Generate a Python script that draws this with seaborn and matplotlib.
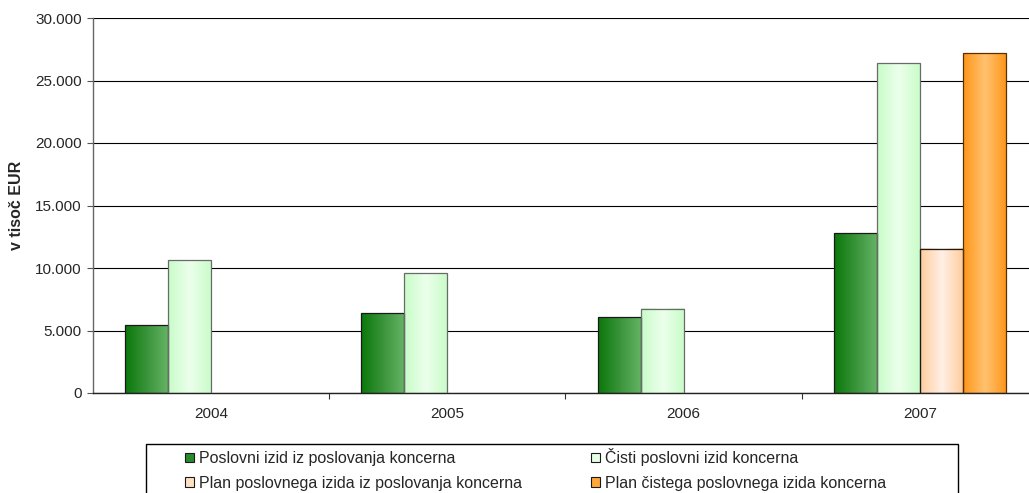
import numpy as np
import pandas as pd
import matplotlib
matplotlib.use("Agg")
import matplotlib.pyplot as plt
import matplotlib.colors as mcolors
from matplotlib.patches import Rectangle
from matplotlib.ticker import FuncFormatter, FixedLocator
import seaborn as sns

years = ["2004", "2005", "2006", "2007"]
series = [
    "Poslovni izid iz poslovanja koncerna",
    "Čisti poslovni izid koncerna",
    "Plan poslovnega izida iz poslovanja koncerna",
    "Plan čistega poslovnega izida koncerna",
]
poslovni = [5440, 6370, 6050, 12770]
cisti = [10640, 9580, 6750, 26400]
plan_poslovni = [np.nan, np.nan, np.nan, 11550]
plan_cisti = [np.nan, np.nan, np.nan, 27170]
y_ticks = [0, 5000, 10000, 15000, 20000, 25000, 30000]

values = [poslovni, cisti, plan_poslovni, plan_cisti]
rows = []
for s, vals in zip(series, values):
    for yr, v in zip(years, vals):
        rows.append({"year": yr, "series": s, "value": v})
df = pd.DataFrame(rows)

base_colors = ["#2e8b2e", "#dcffdc", "#ffe2c8", "#ffac40"]
palette = dict(zip(series, base_colors))
# horizontal gradient stops (left, middle, right)
gradients = [
    ["#0a780a", "#3a943a", "#66b466"],
    ["#c8fcc8", "#ecffec", "#c8fcc8"],
    ["#ffcc9c", "#fff0e6", "#ffcc9c"],
    ["#ff9518", "#ffc270", "#ff9518"],
]
legend_faces = ["#2a8a2a", "#e6ffe6", "#ffe0c4", "#ffa838"]
edgecols = ["#1a1a1a", "#6a6a6a", "#1a1a1a", "#5a3000"]

sns.set_style("white")
plt.rcParams["font.family"] = ["Liberation Sans", "DejaVu Sans"]
plt.rcParams["font.size"] = 11

fig = plt.figure(figsize=(10.29, 4.93), dpi=100)
ax = fig.add_axes([92.8 / 1029, 1 - 393 / 493, (1038 - 92.8) / 1029, (393 - 18) / 493])

sns.barplot(data=df, x="year", y="value", hue="series", hue_order=series,
            order=years, palette=palette, width=0.728, dodge=True,
            errorbar=None, linewidth=0.9, edgecolor="#1a1a1a", ax=ax,
            legend=False, zorder=3)

for i, cont in enumerate(ax.containers):
    cmap = mcolors.LinearSegmentedColormap.from_list("g%d" % i, gradients[i])
    grad = np.linspace(0, 1, 128).reshape(1, -1)
    for p in cont:
        h = p.get_height()
        if h is None or not np.isfinite(h) or h <= 0:
            p.set_visible(False)
            continue
        x0, w = p.get_x(), p.get_width()
        ax.imshow(grad, cmap=cmap, extent=[x0, x0 + w, 0, h], aspect="auto",
                  interpolation="bicubic", zorder=2.5, origin="lower")
        p.set_facecolor("none")
        p.set_edgecolor(edgecols[i])
        p.set_zorder(3)

ax.set_xlim(-0.5, 3.5)
ax.set_ylim(0, 30000)
ax.set_aspect("auto")

ax.yaxis.set_major_locator(FixedLocator(y_ticks))
ax.yaxis.set_major_formatter(FuncFormatter(lambda v, _: f"{int(v):,}".replace(",", ".")))
ax.grid(axis="y", color="black", linewidth=0.8, zorder=0)
ax.set_axisbelow(True)

ax.tick_params(axis="y", left=True, length=4, width=0.8, color="#555555", pad=4, labelsize=11)
ax.tick_params(axis="x", which="major", length=0, pad=10, labelsize=11)
ax.set_xticks([0.5, 1.5, 2.5], minor=True)
ax.tick_params(axis="x", which="minor", bottom=True, length=4, width=0.8, color="#333333")

for s in ["top", "right"]:
    ax.spines[s].set_visible(False)
ax.spines["left"].set_color("#666666")
ax.spines["left"].set_linewidth(1.0)
ax.spines["bottom"].set_color("#222222")
ax.spines["bottom"].set_linewidth(1.0)

ax.set_xlabel("")
ax.set_ylabel("v tisoč EUR", fontweight="bold", fontsize=11.5, labelpad=8)

# legend (row-major order like the reference)
order = [0, 2, 1, 3]
handles = [Rectangle((0, 0), 1, 1, facecolor=legend_faces[i],
                     edgecolor="#1a1a1a", linewidth=0.8) for i in range(4)]
leg = fig.legend([handles[i] for i in order], [series[i] for i in order],
                 loc="upper left",
                 bbox_to_anchor=(185 / 1029, 1 - 448 / 493), ncol=2, frameon=False,
                 handlelength=0.55, handleheight=0.55, handletextpad=0.3,
                 columnspacing=4.35, labelspacing=0.62, borderpad=0, borderaxespad=0,
                 fontsize=11.5)
fig.patches.append(Rectangle((146 / 1029, -0.2), (958 - 146) / 1029, 0.2 + (1 - 444 / 493),
                             transform=fig.transFigure, fill=False, edgecolor="black",
                             linewidth=1.0))

fig.savefig("out.png", dpi=100)
